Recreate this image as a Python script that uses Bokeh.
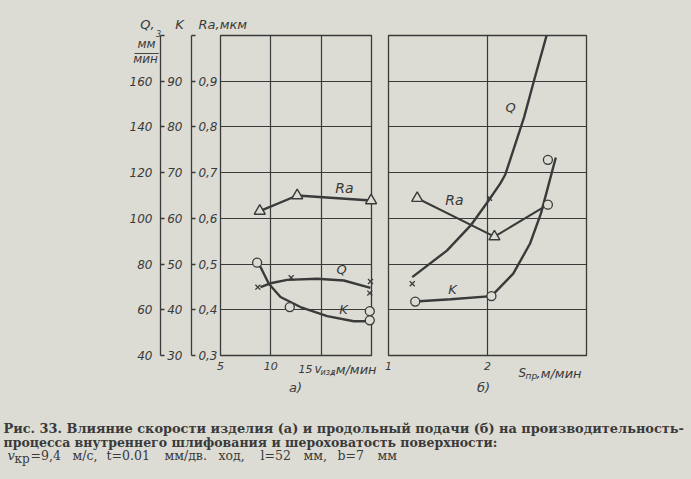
from bokeh.plotting import figure
from bokeh.models import Range1d, LinearAxis, FixedTicker
from bokeh.layouts import row, column
from bokeh.embed import file_html
from bokeh.resources import INLINE
from bokeh.core.properties import value

PAPER = "#dcdcd5"
INK = "#3a3a3a"
SANS = "DejaVu Sans"
SERIF = "DejaVu Serif"

# ---------------- data: panel a (v_izd, m/min) ----------------
a_ra_x = [8.90, 12.62, 19.96]
a_ra = [0.616, 0.650, 0.639]

a_q_pts_x = [8.71, 12.02, 19.90, 19.83]
a_q_pts = [69.9, 74.0, 72.4, 67.3]
a_q_curve_x = [8.97, 9.97, 11.62, 14.60, 17.25, 19.90]
a_q_curve = [69.9, 71.6, 73.1, 73.6, 72.8, 69.6]

a_k_pts_x = [8.64, 11.88, 19.83, 19.83]
a_k_pts = [50.3, 40.6, 39.7, 37.7]
a_k_curve_x = [8.90, 9.80, 10.96, 12.94, 15.60, 18.24, 19.83]
a_k_curve = [49.7, 45.7, 42.8, 40.6, 38.6, 37.5, 37.5]

# ---------------- data: panel b (S_pr, m/min) ----------------
b_ra_x = [1.29, 2.07, 2.61]
b_ra = [0.644, 0.560, 0.630]
b_ra_mark_x = [1.29, 2.07]
b_ra_mark = [0.644, 0.560]

b_q_pts_x = [1.24, 2.02]
b_q_pts = [71.4, 108.8]
b_q_curve_x = [1.24, 1.59, 1.83, 1.99, 2.13, 2.18, 2.26, 2.37, 2.47, 2.60]
b_q_curve = [74.3, 85.9, 96.9, 106.5, 115.3, 119.2, 129.7, 144.3, 160.3, 180.5]

b_k_pts_x = [1.27, 2.04, 2.61, 2.61]
b_k_pts = [41.8, 43.0, 63.0, 72.8]
b_k_curve_x = [1.27, 1.63, 2.04, 2.26, 2.43, 2.54, 2.62, 2.69]
b_k_curve = [41.8, 42.3, 43.0, 47.9, 54.5, 61.1, 67.6, 73.3]

# ---------------- axes / ticks ----------------
ra_ticks = [0.3, 0.4, 0.5, 0.6, 0.7, 0.8, 0.9, 1.0]
ra_labels = ["0,3", "0,4", "0,5", "0,6", "0,7", "0,8", "0,9", ""]
k_ticks = [30, 40, 50, 60, 70, 80, 90, 100]
k_labels = ["30", "40", "50", "60", "70", "80", "90", ""]
q_ticks = [40, 60, 80, 100, 120, 140, 160, 180]
q_labels = ["40", "60", "80", "100", "120", "140", "160", ""]
ra_grid = [0.4, 0.5, 0.6, 0.7, 0.8, 0.9]
a_x_ticks = [5, 10, 15, 20]
a_x_labels = ["5", "10", "", ""]
b_x_ticks = [1, 2, 3]
b_x_labels = ["1", "2", ""]

caption_1 = "Рис. 33. Влияние скорости изделия (а) и продольный подачи (б) на производительность-"
caption_2 = "процесса внутреннего шлифования и шероховатость поверхности:"
caption_3 = ["=9,4", "м/с,", "t=0.01", "мм/дв.", "ход,", "l=52", "мм,", "b=7", "мм"]
caption_3_x = [30, 72, 106, 164, 218, 260, 303, 337, 377]


def style_fig(p):
    p.background_fill_color = PAPER
    p.border_fill_color = PAPER
    p.outline_line_color = INK
    p.outline_line_width = 1.3


def style_axis(ax, size="12px"):
    ax.major_label_text_font = SANS
    ax.major_label_text_font_style = "italic"
    ax.major_label_text_font_size = size
    ax.major_label_text_color = INK
    ax.axis_line_color = INK
    ax.axis_line_width = 1.3
    ax.major_tick_line_color = INK
    ax.major_tick_line_width = 1.3
    ax.minor_tick_line_color = None


def lab(p, text, ax, ay, dx, dy, size="13px", align="center", style="italic",
        font=SANS, baseline="middle"):
    # text anchored at a frame corner, shifted by dx (right) / dy (up) pixels
    p.text(x=[ax], y=[ay], text=[text], x_offset=dx, y_offset=-dy,
           text_font=value(font), text_font_size=size, text_font_style=style,
           text_color=INK, text_align=align, text_baseline=baseline,
           level="overlay")


# ================= panel a =================
pa = figure(width=380, height=400, x_range=Range1d(5, 20), y_range=Range1d(0.3, 1.0),
            output_backend="svg", toolbar_location=None, title=None,
            min_border_left=220, min_border_right=9, min_border_top=35, min_border_bottom=45)
style_fig(pa)
pa.extra_y_ranges = {"q": Range1d(40, 180), "k": Range1d(30, 100)}

ya = pa.yaxis[0]
style_axis(ya)
ya.ticker = FixedTicker(ticks=ra_ticks)
ya.major_label_overrides = dict(zip(ra_ticks, ra_labels))
ya.axis_line_color = None
ya.major_tick_in = 0
ya.major_tick_out = 0
ya.major_label_standoff = 3
ya.axis_label = " "
ya.axis_label_text_font_size = "1px"
ya.axis_label_standoff = 0

k_axis = LinearAxis(y_range_name="k", ticker=FixedTicker(ticks=k_ticks),
                    major_label_overrides=dict(zip(k_ticks, k_labels)))
style_axis(k_axis)
k_axis.major_tick_in = 4
k_axis.major_tick_out = 0
k_axis.major_label_standoff = 9
k_axis.axis_label = " "
k_axis.axis_label_text_font_size = "1px"
k_axis.axis_label_standoff = 0
pa.add_layout(k_axis, "left")

q_axis = LinearAxis(y_range_name="q", ticker=FixedTicker(ticks=q_ticks),
                    major_label_overrides=dict(zip(q_ticks, q_labels)))
style_axis(q_axis)
q_axis.major_tick_in = 4
q_axis.major_tick_out = 0
q_axis.major_label_standoff = 8
pa.add_layout(q_axis, "left")

xa = pa.xaxis[0]
style_axis(xa, "11px")
xa.ticker = FixedTicker(ticks=a_x_ticks)
xa.major_label_overrides = dict(zip(a_x_ticks, a_x_labels))
xa.axis_line_color = None
xa.major_tick_in = 0
xa.major_tick_out = 0
xa.major_label_standoff = 6

pa.xgrid.ticker = FixedTicker(ticks=[10, 15])
pa.ygrid.ticker = FixedTicker(ticks=ra_grid)
for g in (pa.xgrid[0], pa.ygrid[0]):
    g.grid_line_color = INK
    g.grid_line_width = 1.2

pa.line(a_ra_x, a_ra, line_color=INK, line_width=2.4)
pa.scatter(a_ra_x, a_ra, marker="triangle", size=11, fill_color=PAPER,
           line_color=INK, line_width=1.4, level="overlay")
pa.line(a_q_curve_x, a_q_curve, y_range_name="q", line_color=INK, line_width=2.4)
pa.scatter(a_q_pts_x, a_q_pts, y_range_name="q", marker="x", size=7,
           line_color=INK, line_width=1.3, level="overlay")
pa.line(a_k_curve_x, a_k_curve, y_range_name="k", line_color=INK, line_width=2.4)
pa.scatter(a_k_pts_x, a_k_pts, y_range_name="k", marker="circle", size=9,
           fill_color=PAPER, line_color=INK, line_width=1.3, level="overlay")

# axis titles (offsets in px from the frame's corners)
lab(pa, "Q,", 5, 1.0, -73, 11)
lab(pa, "K", 5, 1.0, -41, 11)
lab(pa, "Ra,мкм", 5, 1.0, -22, 11, align="left")
lab(pa, "мм", 5, 1.0, -74, -8, size="12px")
lab(pa, "3", 5, 1.0, -62, 2, size="8px")
lab(pa, "____", 5, 1.0, -74, -11, size="12px", style="normal", baseline="alphabetic")
lab(pa, "мин", 5, 1.0, -75, -23, size="12px")
# curve names
lab(pa, "Ra", 5, 0.3, 124, 168, size="14px")
lab(pa, "Q", 5, 0.3, 121, 86)
lab(pa, "K", 5, 0.3, 123, 46)
# x axis extras
lab(pa, "15", 5, 0.3, 85, -13, size="11px")
lab(pa, "v", 5, 0.3, 94, -13, size="12px", align="left")
lab(pa, "изд", 5, 0.3, 100, -17, size="8px", align="left")
lab(pa, ",м/мин", 5, 0.3, 111, -14, size="13px", align="left")
lab(pa, "а)", 5, 0.3, 75, -32, size="13px")

# ================= panel b =================
pb = figure(width=311, height=400, x_range=Range1d(1, 3), y_range=Range1d(0.3, 1.0),
            output_backend="svg", toolbar_location=None, title=None,
            min_border_left=8, min_border_right=105, min_border_top=35, min_border_bottom=45)
style_fig(pb)
pb.extra_y_ranges = {"q": Range1d(40, 180), "k": Range1d(30, 100)}
pb.yaxis.visible = False

xb = pb.xaxis[0]
style_axis(xb, "11px")
xb.ticker = FixedTicker(ticks=b_x_ticks)
xb.major_label_overrides = dict(zip(b_x_ticks, b_x_labels))
xb.axis_line_color = None
xb.major_tick_in = 0
xb.major_tick_out = 0
xb.major_label_standoff = 6

pb.xgrid.ticker = FixedTicker(ticks=[2])
pb.ygrid.ticker = FixedTicker(ticks=ra_grid)
for g in (pb.xgrid[0], pb.ygrid[0]):
    g.grid_line_color = INK
    g.grid_line_width = 1.2

pb.line(b_ra_x, b_ra, line_color=INK, line_width=2.0)
pb.scatter(b_ra_mark_x, b_ra_mark, marker="triangle", size=11, fill_color=PAPER,
           line_color=INK, line_width=1.4, level="overlay")
pb.line(b_q_curve_x, b_q_curve, y_range_name="q", line_color=INK, line_width=2.4)
pb.scatter(b_q_pts_x, b_q_pts, y_range_name="q", marker="x", size=7,
           line_color=INK, line_width=1.3, level="overlay")
pb.line(b_k_curve_x, b_k_curve, y_range_name="k", line_color=INK, line_width=2.4)
pb.scatter(b_k_pts_x, b_k_pts, y_range_name="k", marker="circle", size=9,
           fill_color=PAPER, line_color=INK, line_width=1.3, level="overlay")

lab(pb, "Q", 1, 0.3, 122, 248)
lab(pb, "Ra", 1, 0.3, 66, 156, size="14px")
lab(pb, "K", 1, 0.3, 64, 66)
lab(pb, "S", 1, 0.3, 130, -17, size="12px", align="left")
lab(pb, "пр", 1, 0.3, 137, -20, size="9px", align="left")
lab(pb, ",м/мин", 1, 0.3, 148, -18, size="13px", align="left")
lab(pb, "б)", 1, 0.3, 95, -32, size="13px")

# ================= caption =================
pc = figure(width=691, height=79, x_range=Range1d(0, 691), y_range=Range1d(79, 0),
            output_backend="svg", toolbar_location=None, title=None,
            x_axis_location=None, y_axis_location=None, min_border=0)
pc.background_fill_color = PAPER
pc.border_fill_color = PAPER
pc.outline_line_color = None
pc.grid.visible = False

pc.text(x=[3], y=[28], text=[caption_1],
        text_font=value(SERIF), text_font_size="12.9px", text_font_style="bold",
        text_color=INK, text_baseline="middle")
pc.text(x=[3], y=[41.5], text=[caption_2],
        text_font=value(SERIF), text_font_size="12.5px", text_font_style="bold",
        text_color=INK, text_baseline="middle")
pc.text(x=[7], y=[55], text=["v"], text_font=value(SERIF), text_font_size="13px",
        text_font_style="italic", text_color=INK, text_baseline="middle")
pc.text(x=[14], y=[58], text=["кр"], text_font=value(SERIF), text_font_size="12px",
        text_color=INK, text_baseline="middle")
pc.text(x=caption_3_x, y=[55] * len(caption_3), text=caption_3,
        text_font=value(SERIF), text_font_size="12.5px",
        text_color=INK, text_baseline="middle")

layout = column(row(pa, pb, styles={"background-color": PAPER}), pc,
                styles={"background-color": PAPER})
open("out.html", "w").write(file_html(layout, INLINE))
